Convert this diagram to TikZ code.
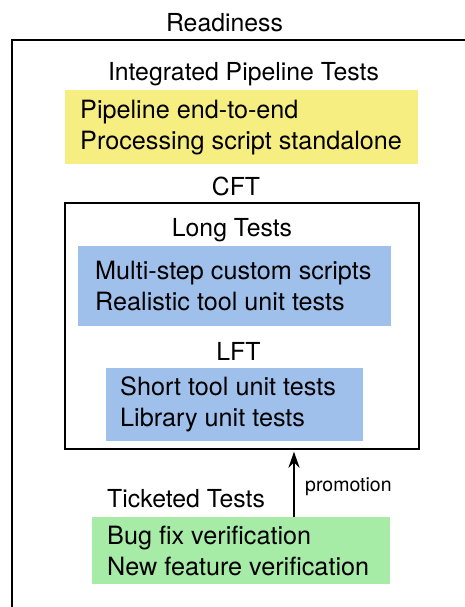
\documentclass[tikz,border=0pt]{standalone}
\usepackage{fontspec}
\setmainfont{TeX Gyre Heros}
\usetikzlibrary{arrows.meta}
\definecolor{ylw}{RGB}{247,238,130}
\definecolor{blu}{RGB}{160,192,236}
\definecolor{grn}{RGB}{166,236,166}
\begin{document}
\begin{tikzpicture}[x=1pt,y=-1pt,
  lbl/.style={font=\fontsize{24.8}{31}\selectfont, inner sep=0pt, anchor=base},
  smalllbl/.style={font=\fontsize{19.5}{24}\selectfont, inner sep=0pt, anchor=base west},
  fillbox/.style={anchor=north west, inner sep=0pt, draw=none},
  boxtext/.style={anchor=west, inner sep=0pt, align=left, font=\fontsize{25.2}{31}\selectfont},
  frame/.style={draw, line width=1.7pt, anchor=north west, inner sep=0pt},
  promo/.style={-{Stealth[length=16pt,width=11pt]}, line width=2pt}]
\useasboundingbox (0,0) rectangle (465,607);
% outer Readiness frame
\node[frame, minimum width=480pt, minimum height=600pt] (outer) at (11,39) {};
\node[lbl] (readiness) at (224.5,31.5) {Readiness};
% Integrated pipeline tests
\node[lbl] (iptlbl) at (243.5,81) {Integrated Pipeline Tests};
\node[fillbox, fill=ylw, minimum width=353pt, minimum height=74pt] (ipt) at (65,90) {};
\node[boxtext] (ipttext) at ([xshift=15pt]ipt.west) {Pipeline end-to-end\\Processing script standalone};
% CFT
\node[lbl] (cftlbl) at (236,195) {CFT};
\node[frame, minimum width=354pt, minimum height=246pt] (cft) at (64,202) {};
\node[lbl] (longlbl) at (232,236) {Long Tests};
\node[fillbox, fill=blu, minimum width=313pt, minimum height=80pt] (long) at (78,246) {};
\node[boxtext] (longtext) at ([xshift=17pt]long.west) {Multi-step custom scripts\\Realistic tool unit tests};
\node[lbl] (lftlbl) at (238.5,360) {LFT};
\node[fillbox, fill=blu, minimum width=257pt, minimum height=73pt] (lft) at (106,368) {};
\node[boxtext] (lfttext) at ([xshift=14pt]lft.west) {Short tool unit tests\\Library unit tests};
% Ticketed tests
\node[lbl, anchor=base west] (ticklbl) at (107,507) {Ticketed Tests};
\node[fillbox, fill=grn, minimum width=298pt, minimum height=67pt] (tick) at (92,517) {};
\node[boxtext] (ticktext) at ([xshift=15pt]tick.west) {Bug fix verification\\New feature verification};
% promotion arrow
\coordinate (ax) at (294,0);
\draw[promo, shorten >=2pt] (tick.north -| ax) -- (cft.south -| ax);
\node[smalllbl] (promolbl) at (305,491) {promotion};
\end{tikzpicture}
\end{document}
